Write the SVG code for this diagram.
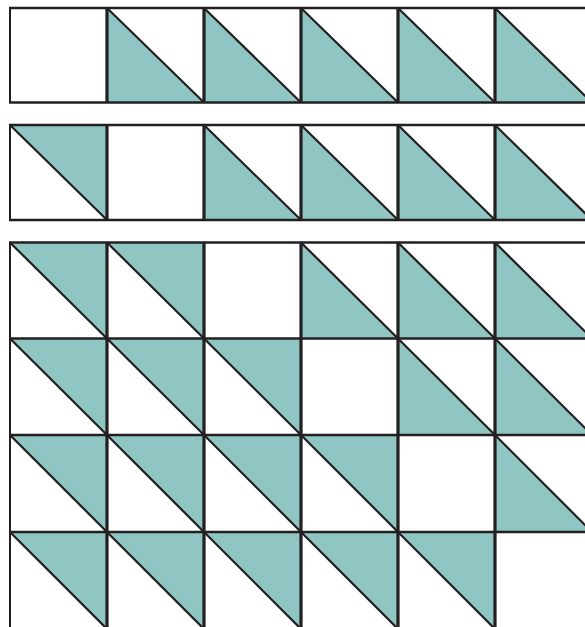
<svg xmlns="http://www.w3.org/2000/svg" width="585" height="627" viewBox="0 0 585 627">
<style>
.t{fill:#8fc6c3}
.d{stroke:#231f20;stroke-width:2.2;fill:none}
.h{stroke:#231f20;stroke-width:2.6}
.v{stroke:#231f20;stroke-width:3.2}
.e{stroke:#231f20;stroke-width:2}
</style>
<rect width="585" height="627" fill="#fff"/>
<g id="row1">
<g id="r1c2"><polygon class="t" points="107,8 107,102.5 204,102.5"/><line class="d" x1="107" y1="8" x2="204" y2="102.5"/></g>
<g id="r1c3"><polygon class="t" points="204,8 204,102.5 301,102.5"/><line class="d" x1="204" y1="8" x2="301" y2="102.5"/></g>
<g id="r1c4"><polygon class="t" points="301,8 301,102.5 398,102.5"/><line class="d" x1="301" y1="8" x2="398" y2="102.5"/></g>
<g id="r1c5"><polygon class="t" points="398,8 398,102.5 495,102.5"/><line class="d" x1="398" y1="8" x2="495" y2="102.5"/></g>
<g id="r1c6"><polygon class="t" points="495,8 495,102.5 592,102.5"/><line class="d" x1="495" y1="8" x2="592" y2="102.5"/></g>
</g>
<g id="row2">
<g id="r2c1"><polygon class="t" points="10,125 107,125 107,220"/><line class="d" x1="10" y1="125" x2="107" y2="220"/></g>
<g id="r2c3"><polygon class="t" points="204,125 204,220 301,220"/><line class="d" x1="204" y1="125" x2="301" y2="220"/></g>
<g id="r2c4"><polygon class="t" points="301,125 301,220 398,220"/><line class="d" x1="301" y1="125" x2="398" y2="220"/></g>
<g id="r2c5"><polygon class="t" points="398,125 398,220 495,220"/><line class="d" x1="398" y1="125" x2="495" y2="220"/></g>
<g id="r2c6"><polygon class="t" points="495,125 495,220 592,220"/><line class="d" x1="495" y1="125" x2="592" y2="220"/></g>
</g>
<g id="row3">
<g id="r3c1"><polygon class="t" points="10,242.5 107,242.5 107,338.5"/><line class="d" x1="10" y1="242.5" x2="107" y2="338.5"/></g>
<g id="r3c2"><polygon class="t" points="107,242.5 204,242.5 204,338.5"/><line class="d" x1="107" y1="242.5" x2="204" y2="338.5"/></g>
<g id="r3c4"><polygon class="t" points="301,242.5 301,338.5 398,338.5"/><line class="d" x1="301" y1="242.5" x2="398" y2="338.5"/></g>
<g id="r3c5"><polygon class="t" points="398,242.5 398,338.5 495,338.5"/><line class="d" x1="398" y1="242.5" x2="495" y2="338.5"/></g>
<g id="r3c6"><polygon class="t" points="495,242.5 495,338.5 592,338.5"/><line class="d" x1="495" y1="242.5" x2="592" y2="338.5"/></g>
</g>
<g id="row4">
<g id="r4c1"><polygon class="t" points="10,338.5 107,338.5 107,435"/><line class="d" x1="10" y1="338.5" x2="107" y2="435"/></g>
<g id="r4c2"><polygon class="t" points="107,338.5 204,338.5 204,435"/><line class="d" x1="107" y1="338.5" x2="204" y2="435"/></g>
<g id="r4c3"><polygon class="t" points="204,338.5 301,338.5 301,435"/><line class="d" x1="204" y1="338.5" x2="301" y2="435"/></g>
<g id="r4c5"><polygon class="t" points="398,338.5 398,435 495,435"/><line class="d" x1="398" y1="338.5" x2="495" y2="435"/></g>
<g id="r4c6"><polygon class="t" points="495,338.5 495,435 592,435"/><line class="d" x1="495" y1="338.5" x2="592" y2="435"/></g>
</g>
<g id="row5">
<g id="r5c1"><polygon class="t" points="10,435 107,435 107,532"/><line class="d" x1="10" y1="435" x2="107" y2="532"/></g>
<g id="r5c2"><polygon class="t" points="107,435 204,435 204,532"/><line class="d" x1="107" y1="435" x2="204" y2="532"/></g>
<g id="r5c3"><polygon class="t" points="204,435 301,435 301,532"/><line class="d" x1="204" y1="435" x2="301" y2="532"/></g>
<g id="r5c4"><polygon class="t" points="301,435 398,435 398,532"/><line class="d" x1="301" y1="435" x2="398" y2="532"/></g>
<g id="r5c6"><polygon class="t" points="495,435 495,532 592,532"/><line class="d" x1="495" y1="435" x2="592" y2="532"/></g>
</g>
<g id="row6">
<g id="r6c1"><polygon class="t" points="10,532 107,532 107,629"/><line class="d" x1="10" y1="532" x2="107" y2="629"/></g>
<g id="r6c2"><polygon class="t" points="107,532 204,532 204,629"/><line class="d" x1="107" y1="532" x2="204" y2="629"/></g>
<g id="r6c3"><polygon class="t" points="204,532 301,532 301,629"/><line class="d" x1="204" y1="532" x2="301" y2="629"/></g>
<g id="r6c4"><polygon class="t" points="301,532 398,532 398,629"/><line class="d" x1="301" y1="532" x2="398" y2="629"/></g>
<g id="r6c5"><polygon class="t" points="398,532 495,532 495,629"/><line class="d" x1="398" y1="532" x2="495" y2="629"/></g>
</g>
<g id="grid">
<line class="h" x1="9" y1="8" x2="585" y2="8"/>
<line class="h" x1="9" y1="102.5" x2="585" y2="102.5"/>
<line class="h" x1="9" y1="125" x2="585" y2="125"/>
<line class="h" x1="9" y1="220" x2="585" y2="220"/>
<line class="h" x1="9" y1="242.5" x2="585" y2="242.5"/>
<line class="h" x1="9" y1="338.5" x2="585" y2="338.5"/>
<line class="h" x1="9" y1="435" x2="585" y2="435"/>
<line class="h" x1="9" y1="532" x2="585" y2="532"/>
<line class="e" x1="10" y1="8" x2="10" y2="102.5"/>
<line class="e" x1="10" y1="125" x2="10" y2="220"/>
<line class="e" x1="10" y1="242.5" x2="10" y2="627"/>
<path class="v" d="M107,8V102.5M204,8V102.5M301,8V102.5M398,8V102.5M495,8V102.5"/>
<path class="v" d="M107,125V220M204,125V220M301,125V220M398,125V220M495,125V220"/>
<path class="v" d="M107,242.5V627M204,242.5V627M301,242.5V627M398,242.5V627M495,242.5V627"/>
</g>
</svg>
